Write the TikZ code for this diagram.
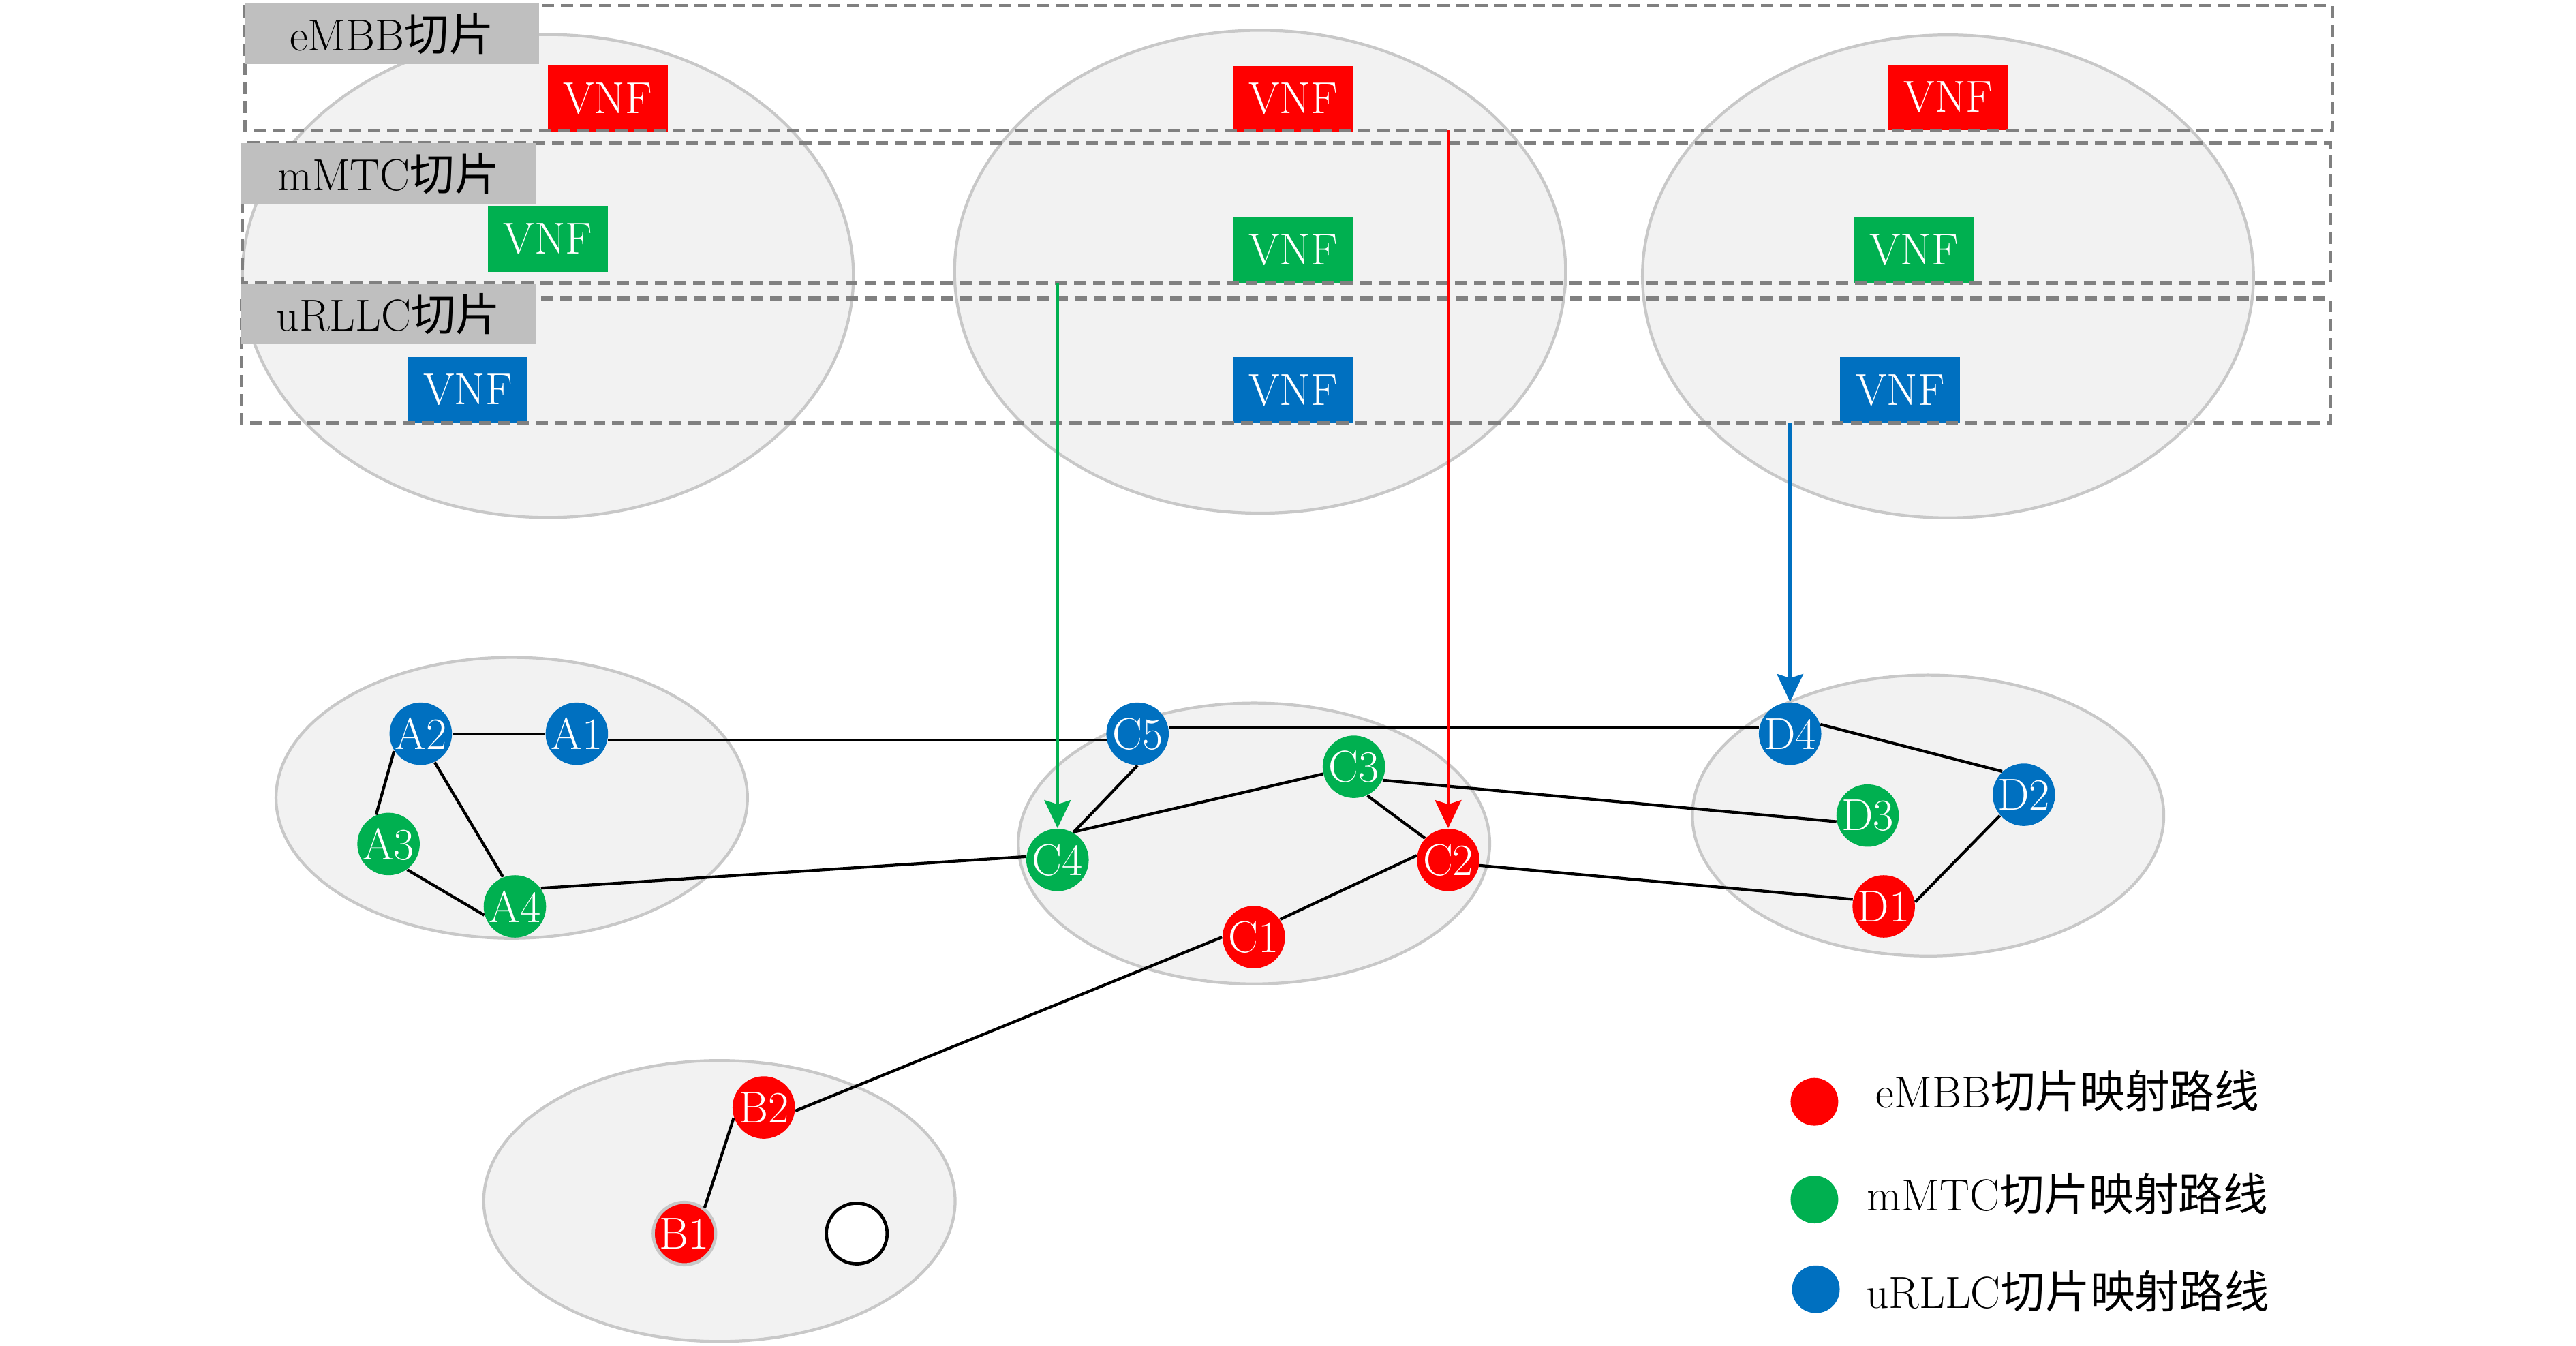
\documentclass[tikz,border=0pt]{standalone}
\usepackage{fontspec}
\newfontfamily\cjk{Noto Sans CJK SC}
\newcommand{\zh}[1]{{\cjk #1}}
\usetikzlibrary{arrows.meta}
\definecolor{myred}{HTML}{FF0000}
\definecolor{mygreen}{HTML}{00B050}
\definecolor{myblue}{HTML}{0070C0}
\definecolor{ellfill}{HTML}{F2F2F2}
\definecolor{elldraw}{HTML}{C8C8C8}
\definecolor{lblfill}{HTML}{BFBFBF}
\definecolor{dashgray}{HTML}{808080}
\begin{document}
\begin{tikzpicture}[x=0.02cm, y=-0.02cm,
  every node/.style={font=\fontsize{15.5}{18}\selectfont},
  region/.style={fill=ellfill, draw=elldraw, line width=1pt},
  slicebox/.style={draw=dashgray, line width=1.3pt, dash pattern=on 4.2pt off 2.4pt},
  slicelabel/.style={fill=lblfill, minimum width=3.58cm, minimum height=0.74cm, inner sep=0pt},
  vnf/.style={fill=#1, text=white, minimum width=1.46cm, minimum height=0.8cm, inner sep=0pt},
  vertex/.style={circle, fill=#1, text=white, minimum size=0.76cm, inner sep=0pt},
  link/.style={line width=1pt},
  mapping/.style={draw=#1, line width=1.1pt, -{Stealth[length=0.34cm, width=0.32cm, inset=0.05cm]}},
  legenddot/.style={circle, fill=#1, minimum size=0.58cm, inner sep=0pt},
]
\useasboundingbox (0,0) rectangle (1568,819.2);

% server regions (top)
\draw[region] (333.5,168) ellipse [x radius=3.72cm, y radius=2.94cm];
\draw[region] (767,165.4) ellipse [x radius=3.72cm, y radius=2.94cm];
\draw[region] (1185.7,168.2) ellipse [x radius=3.72cm, y radius=2.94cm];

% network domains (bottom)
\draw[region] (311.5,485.6) ellipse [x radius=2.87cm, y radius=1.71cm];
\draw[region] (763.3,513.4) ellipse [x radius=2.87cm, y radius=1.71cm];
\draw[region] (1173.6,496.4) ellipse [x radius=2.87cm, y radius=1.71cm];
\draw[region] (437.9,731) ellipse [x radius=2.87cm, y radius=1.71cm];

% VNFs
\node[vnf=myred]   (v11) at (369.9,60)    {VNF};
\node[vnf=mygreen] (v12) at (333.5,145.4) {VNF};
\node[vnf=myblue]  (v13) at (284.7,237.3) {VNF};
\node[vnf=myred]   (v21) at (787.2,60.1)  {VNF};
\node[vnf=mygreen] (v22) at (787.2,152.2) {VNF};
\node[vnf=myblue]  (v23) at (787.2,237.5) {VNF};
\node[vnf=myred]   (v31) at (1186,59.3)   {VNF};
\node[vnf=mygreen] (v32) at (1165,152.2)  {VNF};
\node[vnf=myblue]  (v33) at (1156.6,237.5){VNF};

% slice boxes
\draw[slicebox] (149,3.5) rectangle (1419.6,79.4);
\draw[slicebox] (147.5,87.2) rectangle (1418.5,172.3);
\draw[slicebox] (147,181.7) rectangle (1418.5,257.5);

\node[slicelabel] (lblE) at (238.5,20.5) {eMBB\zh{切片}};
\node[slicelabel] (lblM) at (236.5,105.5) {mMTC\zh{切片}};
\node[slicelabel] (lblU) at (236.5,191) {uRLLC\zh{切片}};

% vertices
\node[vertex=myblue]  (A1) at (351.1,446.6) {A1};
\node[vertex=myblue]  (A2) at (256.1,446.6) {A2};
\node[vertex=mygreen] (A3) at (236.5,513.7) {A3};
\node[vertex=mygreen] (A4) at (313.4,551.7) {A4};
\node[vertex=myred, draw=elldraw, line width=1.1pt] (B1) at (416.6,750.8) {B1};
\node[vertex=myred]   (B2) at (464.9,674.1) {B2};
\node[circle, draw=black, fill=white, line width=1.1pt, minimum size=0.74cm, inner sep=0pt] (B0) at (521.5,750.8) {};
\node[vertex=myred]   (C1) at (763.2,570.4) {C1};
\node[vertex=myred]   (C2) at (881.5,523.4) {C2};
\node[vertex=mygreen] (C3) at (824.1,466.7) {C3};
\node[vertex=mygreen] (C4) at (643.7,523.4) {C4};
\node[vertex=myblue]  (C5) at (692.4,446.6) {C5};
\node[vertex=myred]   (D1) at (1146.6,551.7) {D1};
\node[vertex=myblue]  (D2) at (1231.9,483.7) {D2};
\node[vertex=mygreen] (D3) at (1136.8,496.4) {D3};
\node[vertex=myblue]  (D4) at (1089.6,446.6) {D4};

% links
\draw[link] (A2.east) -- (A1.west);
\draw[link] (A1.-12) -- (C5.192);
\draw[link] (C5.12) -- (D4.168);
\draw[link] (A2.213) -- (A3.113);
\draw[link] (A2.-64) -- (A4.112);
\draw[link] (A3.-54) -- (A4.196);
\draw[link] (A4.35) -- (C4.174);
\draw[link] (C5.south) -- (C4.60);
\draw[link] (C4.61) -- (C3.193);
\draw[link] (C3.-65) -- (C2.137);
\draw[link] (C3.-25) -- (D3.191);
\draw[link] (C2.-10) -- (D1.167);
\draw[link] (C2.172) -- (C1.34);
\draw[link] (C1.180) -- (B2.-6);
\draw[link] (B2.199) -- (B1.52);
\draw[link] (D4.17) -- (D2.133);
\draw[link] (D2.221) -- (D1.8);

% mapping arrows
\coordinate (gStart) at (643.7,172.3);
\coordinate (rStart) at (881.5,79.4);
\coordinate (bStart) at (1089.6,257.5);
\draw[mapping=mygreen] (gStart) -- (C4.north);
\draw[mapping=myred] (rStart) -- (C2.north);
\draw[mapping=myblue] (bStart) -- (D4.north);

% legend
\node[legenddot=myred]   (L1) at (1104.4,670.6) {};
\node[legenddot=mygreen] (L2) at (1104.4,730.1) {};
\node[legenddot=myblue]  (L3) at (1105.3,784.7) {};
\node[anchor=base] (T1) at (1258.5,674.1) {eMBB\zh{切片映射路线}};
\node[anchor=base] (T2) at (1258.5,737) {mMTC\zh{切片映射路线}};
\node[anchor=base] (T3) at (1258.5,796.4) {uRLLC\zh{切片映射路线}};
\end{tikzpicture}
\end{document}
